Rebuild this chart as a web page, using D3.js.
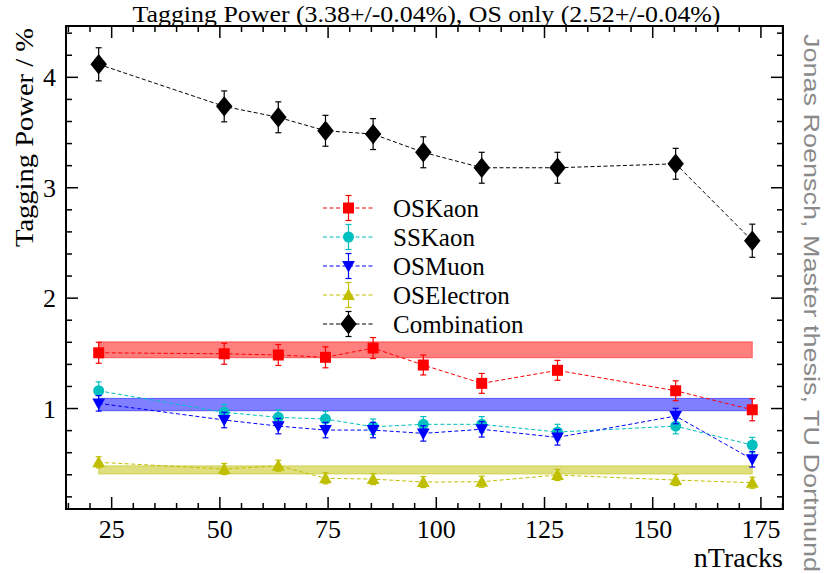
<!DOCTYPE html>
<html>
<head>
<meta charset="utf-8">
<script src="https://cdn.jsdelivr.net/npm/d3@7"></script>
<style>
  html, body { margin: 0; padding: 0; background: #fff; }
  svg { display: block; }
</style>
</head>
<body>
<svg id="chart" width="827" height="574"></svg>
<script>
// ---- data ----
const nTracks = [22, 51, 63.5, 74.4, 85.4, 97, 110.5, 128, 155.3, 173];

const osKaon      = [1.505, 1.496, 1.485, 1.464, 1.548, 1.394, 1.228, 1.346, 1.161, 0.989];
const osKaonErr   = [0.095, 0.095, 0.095, 0.095, 0.095, 0.09, 0.09, 0.09, 0.09, 0.10];
const ssKaon      = [1.161, 0.966, 0.920, 0.905, 0.835, 0.857, 0.857, 0.787, 0.841, 0.669];
const ssKaonErr   = [0.08, 0.07, 0.07, 0.07, 0.07, 0.07, 0.07, 0.07, 0.07, 0.07];
const osMuon      = [1.047, 0.896, 0.841, 0.805, 0.805, 0.775, 0.812, 0.739, 0.932, 0.540];
const osMuonErr   = [0.07, 0.07, 0.07, 0.07, 0.07, 0.07, 0.07, 0.07, 0.07, 0.07];
const osElectron  = [0.513, 0.452, 0.482, 0.368, 0.361, 0.334, 0.337, 0.398, 0.352, 0.328];
const osElectronErr = [0.05, 0.05, 0.05, 0.05, 0.05, 0.05, 0.05, 0.05, 0.05, 0.05];
const combination = [4.118, 3.737, 3.638, 3.516, 3.486, 3.321, 3.181, 3.181, 3.217, 2.520];
const combinationErr = [0.15, 0.14, 0.14, 0.14, 0.14, 0.14, 0.14, 0.14, 0.14, 0.15];

// integrated values (bands): centre and half-width
const bandNames   = ["OSKaon", "OSMuon", "OSElectron"];
const bandCentres = [1.532, 1.036, 0.444];
const bandHalf    = [0.072, 0.056, 0.037];

const seriesNames  = ["OSKaon", "SSKaon", "OSMuon", "OSElectron", "Combination"];
const seriesColors = ["#ff0000", "#00bfbf", "#0000ff", "#bfbf00", "#000000"];
const seriesMarkers = ["square", "circle", "triangleDown", "triangleUp", "diamond"];

const xTicks = [25, 50, 75, 100, 125, 150, 175];
const yTicks = [1, 2, 3, 4];

const titleText = "Tagging Power (3.38+/-0.04%), OS only (2.52+/-0.04%)";
const xLabel = "nTracks";
const yLabel = "Tagging Power / %";
const sideText = "Jonas Roensch, Master thesis, TU Dortmund";

// ---- layout ----
const svg = d3.select("#chart");
const L = 66, R = 783, T = 26, B = 509;
const x = d3.scaleLinear().domain([14.45, 180.1]).range([L, R]);
const y = d3.scaleLinear().domain([0.09, 4.465]).range([B, T]);
const serif = "'Liberation Serif', 'DejaVu Serif', serif";

const values = [osKaon, ssKaon, osMuon, osElectron, combination];
const errors = [osKaonErr, ssKaonErr, osMuonErr, osElectronErr, combinationErr];

// bands
const bandColor = {OSKaon: "#ff0000", OSMuon: "#0000ff", OSElectron: "#bfbf00"};
bandNames.forEach((n, i) => {
  svg.append("rect")
    .attr("x", x(nTracks[0]))
    .attr("width", x(nTracks[nTracks.length - 1]) - x(nTracks[0]))
    .attr("y", y(bandCentres[i] + bandHalf[i]))
    .attr("height", y(bandCentres[i] - bandHalf[i]) - y(bandCentres[i] + bandHalf[i]))
    .attr("fill", bandColor[n]).attr("fill-opacity", 0.5)
    .attr("stroke", bandColor[n]).attr("stroke-opacity", 0.5).attr("stroke-width", 1);
});

function markerPath(type, s) {
  switch (type) {
    case "square": return `M${-s/2},${-s/2}h${s}v${s}h${-s}Z`;
    case "circle": return d3.symbol(d3.symbolCircle, Math.PI * (s/2) * (s/2))();
    case "triangleDown": return `M${-s*0.58},${-s*0.45}L${s*0.58},${-s*0.45}L0,${s*0.6}Z`;
    case "triangleUp": return `M${-s*0.58},${s*0.45}L${s*0.58},${s*0.45}L0,${-s*0.6}Z`;
    case "diamond": return `M0,${-s*0.68}L${s*0.55},0L0,${s*0.68}L${-s*0.55},0Z`;
  }
}
const markerSize = {square: 11, circle: 11, triangleDown: 11, triangleUp: 11, diamond: 15};

const plot = svg.append("g");
seriesNames.forEach((name, si) => {
  const col = seriesColors[si];
  const vals = values[si], errs = errors[si];
  const pts = nTracks.map((t, i) => ({t, v: vals[i], e: errs[i]}));
  const g = plot.append("g");
  g.append("path")
    .datum(pts)
    .attr("d", d3.line().x(d => x(d.t)).y(d => y(d.v)))
    .attr("fill", "none").attr("stroke", col).attr("stroke-width", 1)
    .attr("stroke-dasharray", "4,2.5");
  pts.forEach(d => {
    const cx = x(d.t), y1 = y(d.v + d.e), y2 = y(d.v - d.e);
    g.append("line").attr("x1", cx).attr("x2", cx).attr("y1", y1).attr("y2", y2)
      .attr("stroke", col).attr("stroke-width", 1.2);
    [y1, y2].forEach(yy => g.append("line").attr("x1", cx - 3).attr("x2", cx + 3)
      .attr("y1", yy).attr("y2", yy).attr("stroke", col).attr("stroke-width", 1.2));
    g.append("path").attr("transform", `translate(${cx},${y(d.v)})`)
      .attr("d", markerPath(seriesMarkers[si], markerSize[seriesMarkers[si]]))
      .attr("fill", col);
  });
});

// frame
svg.append("rect").attr("x", L).attr("y", T).attr("width", R - L).attr("height", B - T)
  .attr("fill", "none").attr("stroke", "#000").attr("stroke-width", 2);

// ticks
const xMinor = d3.range(15, 181, 5);
const yMinor = d3.range(0.2, 4.41, 0.2).filter(v => Math.abs(v - Math.round(v)) > 1e-6);
const tk = svg.append("g").attr("stroke", "#000").attr("stroke-width", 1.5);
xMinor.forEach(v => {
  const major = xTicks.includes(v);
  const len = major ? 12 : 6;
  tk.append("line").attr("x1", x(v)).attr("x2", x(v)).attr("y1", B).attr("y2", B - len);
  tk.append("line").attr("x1", x(v)).attr("x2", x(v)).attr("y1", T).attr("y2", T + len);
});
yMinor.forEach(v => {
  tk.append("line").attr("x1", L).attr("x2", L + 6).attr("y1", y(v)).attr("y2", y(v));
  tk.append("line").attr("x1", R).attr("x2", R - 6).attr("y1", y(v)).attr("y2", y(v));
});
yTicks.forEach(v => {
  tk.append("line").attr("x1", L).attr("x2", L + 12).attr("y1", y(v)).attr("y2", y(v));
  tk.append("line").attr("x1", R).attr("x2", R - 12).attr("y1", y(v)).attr("y2", y(v));
});

// tick labels
svg.append("g").selectAll("text").data(xTicks).join("text")
  .attr("x", d => x(d)).attr("y", B + 29)
  .attr("text-anchor", "middle").attr("font-family", serif).attr("font-size", 26)
  .text(d => d);
svg.append("g").selectAll("text").data(yTicks).join("text")
  .attr("x", L - 10).attr("y", d => y(d) + 9)
  .attr("text-anchor", "end").attr("font-family", serif).attr("font-size", 26)
  .text(d => d);

// labels
svg.append("text").attr("x", (L + R) / 2 + 2).attr("y", 21.5)
  .attr("text-anchor", "middle").attr("font-family", serif).attr("font-size", 24)
  .attr("textLength", 588).attr("lengthAdjust", "spacingAndGlyphs")
  .text(titleText);
svg.append("text").attr("x", R).attr("y", 567)
  .attr("text-anchor", "end").attr("font-family", serif).attr("font-size", 28)
  .text(xLabel);
svg.append("text").attr("transform", `translate(33,247) rotate(-90)`)
  .attr("text-anchor", "start").attr("font-family", serif).attr("font-size", 26)
  .attr("textLength", 219).attr("lengthAdjust", "spacingAndGlyphs")
  .text(yLabel);
svg.append("text").attr("transform", `translate(804,34) rotate(90)`)
  .attr("text-anchor", "start").attr("font-family", "'Liberation Sans', Arial, sans-serif")
  .attr("font-size", 22).attr("fill", "#8a8a8a")
  .attr("textLength", 538).attr("lengthAdjust", "spacingAndGlyphs")
  .text(sideText);

// legend
const lg = svg.append("g");
seriesNames.forEach((name, si) => {
  const ly = 208 + si * 29;
  const col = seriesColors[si];
  lg.append("line").attr("x1", 323).attr("x2", 374).attr("y1", ly).attr("y2", ly)
    .attr("stroke", col).attr("stroke-width", 1).attr("stroke-dasharray", "4,2.5");
  lg.append("line").attr("x1", 348.5).attr("x2", 348.5).attr("y1", ly - 12.5).attr("y2", ly + 12.5)
    .attr("stroke", col).attr("stroke-width", 1.2);
  [ly - 12.5, ly + 12.5].forEach(yy => lg.append("line").attr("x1", 345.5).attr("x2", 351.5)
    .attr("y1", yy).attr("y2", yy).attr("stroke", col).attr("stroke-width", 1.2));
  lg.append("path").attr("transform", `translate(348.5,${ly})`)
    .attr("d", markerPath(seriesMarkers[si], markerSize[seriesMarkers[si]]))
    .attr("fill", col);
  lg.append("text").attr("x", 393).attr("y", ly + 9)
    .attr("font-family", serif).attr("font-size", 25).text(name);
});
</script>
</body>
</html>
